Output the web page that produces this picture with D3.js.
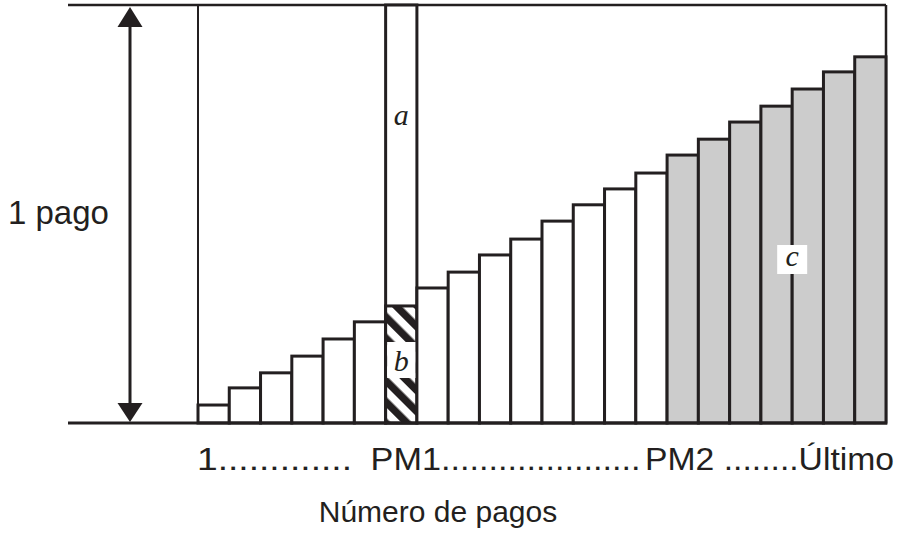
<!DOCTYPE html>
<html>
<head>
<meta charset="utf-8">
<script src="https://cdn.jsdelivr.net/npm/d3@7"></script>
<style>
  html, body { margin: 0; padding: 0; background: #fff; }
  svg { display: block; }
</style>
</head>
<body>
<div id="chart"></div>
<script>
// ---- data ----
const payments = [1, 2, 3, 4, 5, 6, 7, 8, 9, 10, 11, 12, 13, 14, 15, 16, 17, 18, 19, 20, 21, 22];
// principal share of one payment (%)
const principal = [4.3, 8.4, 12.0, 16.0, 20.1, 24.2, 28.0, 32.3, 36.1, 40.2, 44.0, 48.3, 52.2, 56.0, 59.8, 64.1, 67.9, 72.0, 75.8, 79.9, 84.0, 87.6];
const pm1 = 7;   // payment PM1
const pm2 = 16;  // payment PM2
const paymentTotal = 100; // 1 pago
const tickLabels = ["1.............", "PM1.....................", "PM2 ........Último"];
const axisTitle = "Número de pagos";
const yLabel = "1 pago";
const areaLabels = ["a", "b", "c"];

// ---- drawing ----
const W = 907, H = 539;
const ink = "#231f20";
const svg = d3.select("#chart").append("svg").attr("width", W).attr("height", H);

const x = d3.scaleBand().domain(payments).range([198, 886]).padding(0);
const y = d3.scaleLinear().domain([0, paymentTotal]).range([423, 5]);

const defs = svg.append("defs");
const pat = defs.append("pattern")
  .attr("id", "hatch").attr("patternUnits", "userSpaceOnUse")
  .attr("width", 15).attr("height", 15)
  .attr("patternTransform", "rotate(-45)");
pat.append("rect").attr("width", 15).attr("height", 15).attr("fill", "#fff");
pat.append("rect").attr("width", 7.5).attr("height", 15).attr("fill", ink);

// frame: top line and verticals
svg.append("line").attr("x1", 68).attr("x2", x.range()[1]).attr("y1", y(paymentTotal)).attr("y2", y(paymentTotal))
  .attr("stroke", ink).attr("stroke-width", 2.5);
svg.append("line").attr("x1", x(payments[0])).attr("x2", x(payments[0])).attr("y1", y(paymentTotal)).attr("y2", y(0))
  .attr("stroke", ink).attr("stroke-width", 2);
svg.append("line").attr("x1", x.range()[1]).attr("x2", x.range()[1]).attr("y1", y(paymentTotal)).attr("y2", y(0))
  .attr("stroke", ink).attr("stroke-width", 2.5);

// PM1 full column (a)
svg.append("rect")
  .attr("x", x(pm1)).attr("y", y(paymentTotal)).attr("width", x.bandwidth()).attr("height", y(0) - y(paymentTotal))
  .attr("fill", "#fff").attr("stroke", ink).attr("stroke-width", 3);

// bars
svg.append("g").selectAll("rect").data(payments).join("rect")
  .attr("x", d => x(d))
  .attr("y", (d, i) => y(principal[i]))
  .attr("width", x.bandwidth())
  .attr("height", (d, i) => y(0) - y(principal[i]))
  .attr("fill", d => d === pm1 ? "url(#hatch)" : (d >= pm2 ? "#cccccc" : "#ffffff"))
  .attr("stroke", ink).attr("stroke-width", 3);

// white box behind b
svg.append("rect")
  .attr("x", x(pm1) + 1.5).attr("width", x.bandwidth() - 3)
  .attr("y", 342).attr("height", 36)
  .attr("fill", "#fff");

// labels a, b, c
const serif = "'Liberation Serif', 'DejaVu Serif', serif";
svg.append("text").attr("x", x(pm1) + x.bandwidth() / 2).attr("y", 125)
  .attr("text-anchor", "middle").attr("font-family", serif).attr("font-style", "italic")
  .attr("font-size", 30).attr("fill", ink).text(areaLabels[0]);
svg.append("text").attr("x", x(pm1) + x.bandwidth() / 2).attr("y", 371)
  .attr("text-anchor", "middle").attr("font-family", serif).attr("font-style", "italic")
  .attr("font-size", 30).attr("fill", ink).text(areaLabels[1]);
const cx = x(20);
svg.append("rect").attr("x", cx - 15).attr("y", 245).attr("width", 30).attr("height", 29).attr("fill", "#fff");
svg.append("text").attr("x", cx).attr("y", 266)
  .attr("text-anchor", "middle").attr("font-family", serif).attr("font-style", "italic")
  .attr("font-size", 30).attr("fill", ink).text(areaLabels[2]);

// baseline
svg.append("line").attr("x1", 68).attr("x2", x.range()[1] + 1).attr("y1", y(0)).attr("y2", y(0))
  .attr("stroke", ink).attr("stroke-width", 3);

// double arrow
const ax = 130;
svg.append("line").attr("x1", ax).attr("x2", ax).attr("y1", y(paymentTotal) + 20).attr("y2", y(0) - 18)
  .attr("stroke", ink).attr("stroke-width", 3);
svg.append("path")
  .attr("d", `M${ax},${y(paymentTotal) + 2} L${ax - 12.5},${y(paymentTotal) + 22} L${ax + 12.5},${y(paymentTotal) + 22} Z`)
  .attr("fill", ink);
svg.append("path")
  .attr("d", `M${ax},${y(0) - 1} L${ax - 12.5},${y(0) - 20} L${ax + 12.5},${y(0) - 20} Z`)
  .attr("fill", ink);

const sans = "'Liberation Sans', Arial, Helvetica, sans-serif";
svg.append("text").attr("x", 8).attr("y", 224)
  .attr("font-family", sans).attr("font-size", 33).attr("fill", ink).text(yLabel);

// tick label row
const segStart = [x(payments[0]) - 1, x(pm1) - 15, x(pm2) - 22];
const segLen = [155, 270, 249];
svg.append("g").selectAll("text").data(tickLabels).join("text")
  .attr("x", (d, i) => segStart[i]).attr("y", 470)
  .attr("font-family", sans).attr("font-size", 31).attr("fill", ink)
  .attr("textLength", (d, i) => segLen[i]).attr("lengthAdjust", "spacingAndGlyphs")
  .text(d => d);

svg.append("text").attr("x", 438).attr("y", 522).attr("text-anchor", "middle")
  .attr("font-family", sans).attr("font-size", 30).attr("fill", ink).text(axisTitle);
</script>
</body>
</html>
